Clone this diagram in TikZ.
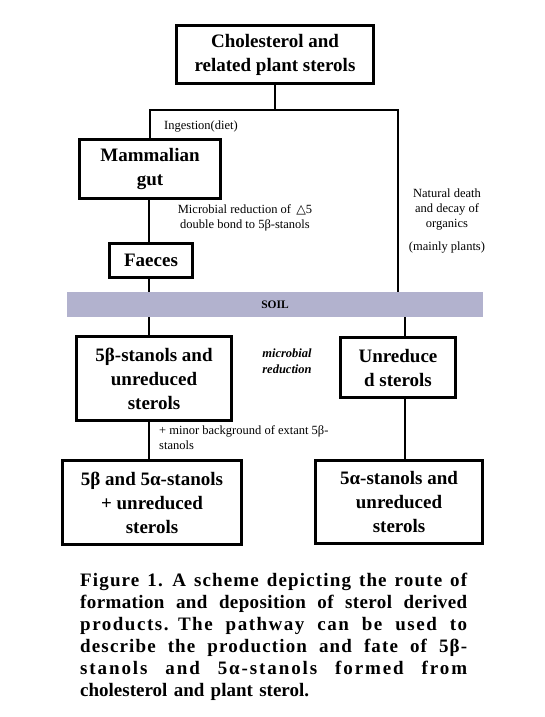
\documentclass[tikz,border=0pt]{standalone}
\usepackage{fontspec}
\setmainfont{Liberation Serif}
\newfontfamily\symfont{DejaVu Sans}
\RequirePackage{xcolor}
\definecolor{soilblue}{RGB}{178,178,206}

\newcommand{\capline}[2]{\leavevmode\hbox to 387pt{\addfontfeature{LetterSpace=#1}\spaceskip=0.25em plus 1fil\relax #2}}

\begin{document}
\begin{tikzpicture}[x=1pt,y=-1pt,
        box/.style={draw,line width=3pt,align=center,inner sep=0pt,font=\fontsize{19}{24}\selectfont\bfseries},
        link/.style={line width=2.4pt},
        note/.style={align=center,inner sep=0pt,font=\fontsize{12.5}{15}\selectfont}]
        \useasboundingbox (0,0) rectangle (544,717);

        \node[box,minimum width=197pt,minimum height=58pt] at (275,54.5) (chol-sterols) {Cholesterol and\\related plant sterols};
        \node[box,minimum width=141pt,minimum height=59pt] at (150,169) (mammal-gut) {Mammalian\\gut};
        \node[box,minimum width=83pt,minimum height=34pt] at (151,260.5) (faeces) {Faeces};

        \node[fill=soilblue,minimum width=416pt,minimum height=25pt,inner sep=0pt,font=\fontsize{11.5}{13}\selectfont\bfseries] at (275,304.5) (soil-band) {SOIL};

        \node[box,minimum width=155pt,minimum height=84pt] at (154,378.5) (beta-stanols) {5β-stanols and\\unreduced\\sterols};
        \node[box,minimum width=115pt,minimum height=60pt] at (398,367.5) (unreduced) {Unreduce\\d sterols};
        \node[box,minimum width=179pt,minimum height=84pt] at (152,502.5) (beta-alpha-mix) {5β and 5α-stanols\\+ unreduced\\sterols};
        \node[box,minimum width=167pt,minimum height=83pt] at (399,502) (alpha-stanols) {5α-stanols and\\unreduced\\sterols};

        \coordinate (fork-r) at (398,110);
        \coordinate (col-l) at (149,0);
        \coordinate (col-r) at (405,0);

        \draw[link] (chol-sterols.south) -- (chol-sterols.south |- fork-r);
        \draw[link] (mammal-gut.north) |- (fork-r) -- (fork-r |- soil-band.north);
        \draw[link] (col-l |- mammal-gut.south) -- (col-l |- faeces.north);
        \draw[link] (col-l |- faeces.south) -- (col-l |- soil-band.north);
        \draw[link] (col-l |- soil-band.south) -- (col-l |- beta-stanols.north);
        \draw[link] (col-l |- beta-stanols.south) -- (col-l |- beta-alpha-mix.north);
        \draw[link] (col-r |- soil-band.south) -- (col-r |- unreduced.north);
        \draw[link] (col-r |- unreduced.south) -- (col-r |- alpha-stanols.north);

        \node[note,anchor=west] at (164,127) (ingestion) {Ingestion(diet)};
        \node[note] at (245,217.5) (gut-reduction) {Microbial reduction of \,{\symfont △}5\\double bond to 5β-stanols};
        \node[note] at (447,221) (natural-decay) {Natural death\\and decay of\\organics\\[8pt](mainly plants)};
        \node[note,font=\fontsize{12.5}{16}\selectfont\bfseries\itshape] at (287,361) (soil-reduction) {microbial\\reduction};
        \node[note,anchor=west,align=left] at (159,438) (background) {+ minor background of extant 5β-\\stanols};

        \node[anchor=north west,inner sep=0pt,text width=387pt,align=left,font=\fontsize{19}{22}\selectfont\bfseries] at (80,573) (caption) {\capline{6}{Figure 1. A scheme depicting the route of}\\
                \capline{2}{formation and deposition of sterol derived}\\
                \capline{8}{products. The pathway can be used to}\\
                \capline{6}{describe the production and fate of 5β-}\\
                \capline{10}{stanols and 5α-stanols formed from}\\
                cholesterol and plant sterol.};
    \end{tikzpicture}
\end{document}
